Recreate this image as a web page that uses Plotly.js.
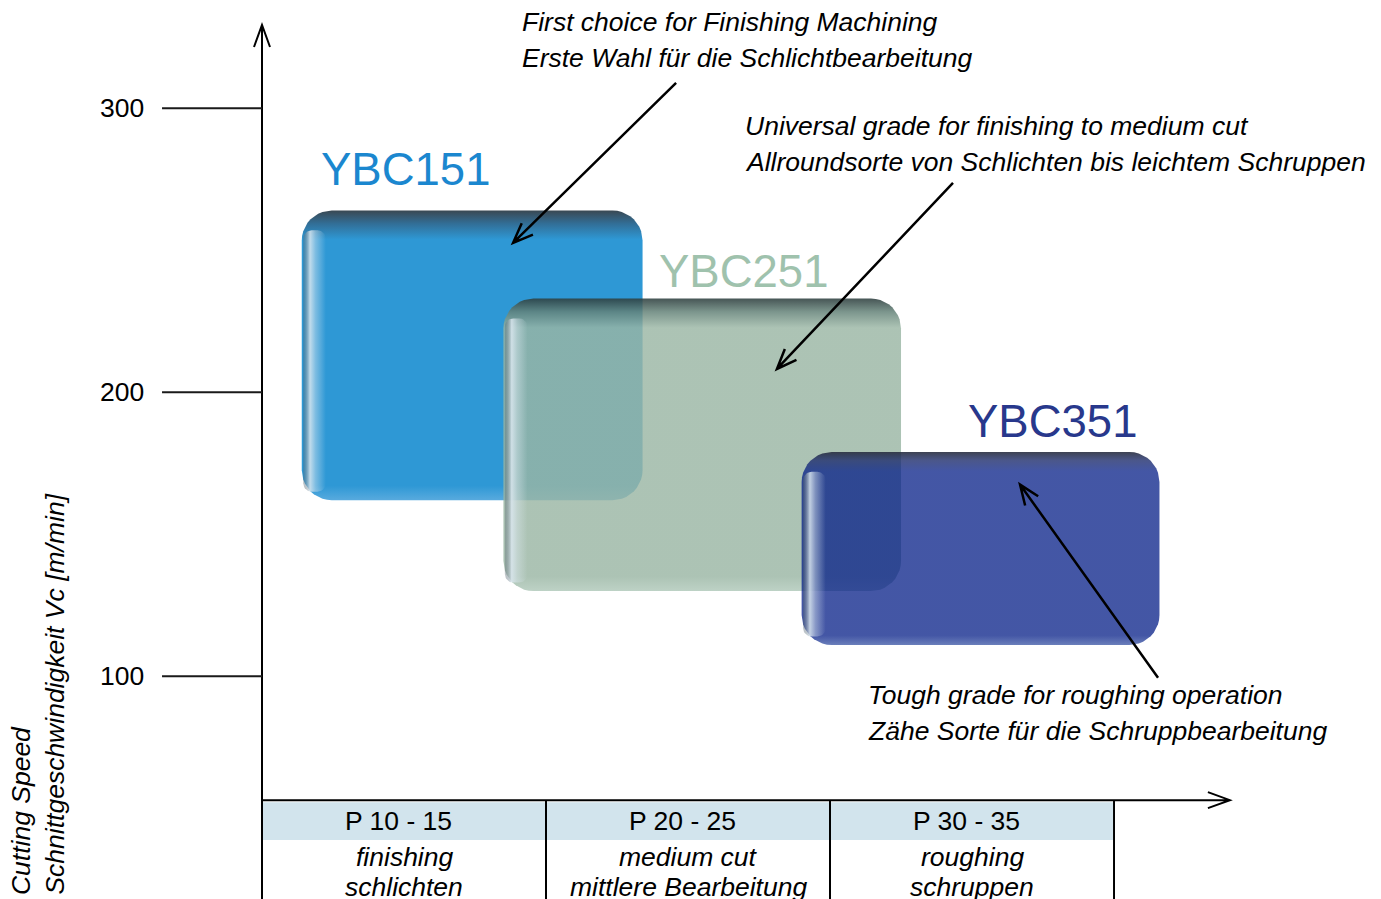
<!DOCTYPE html>
<html>
<head>
<meta charset="utf-8">
<script src="https://cdn.plot.ly/plotly-3.0.1.min.js"></script>
<style>
  html, body { margin: 0; padding: 0; background: #fff; }
  #chart { width: 1381px; height: 899px; }
</style>
</head>
<body>
<div id="chart"></div>
<script>
// grade fields: ISO P range (x) and cutting speed Vc in m/min (y)
var grades = ['YBC151', 'YBC251', 'YBC351'];
var pLow = [11.4, 18.5, 29.0];
var pHigh = [23.4, 32.5, 41.6];
var vcLow = [162, 130, 111];
var vcHigh = [264, 233, 179];

var vcTicks = [100, 200, 300];

// application table under the x axis
var groupEdges = [10, 20, 30, 40];
var groupCodes = ['P 10 - 15', 'P 20 - 25', 'P 30 - 35'];
var groupEn = ['finishing', 'medium cut', 'roughing'];
var groupDe = ['schlichten', 'mittlere Bearbeitung', 'schruppen'];

var noteLines = [
    ['First choice for Finishing Machining', 'Erste Wahl für die Schlichtbearbeitung'],
    ['Universal grade for finishing to medium cut', 'Allroundsorte von Schlichten bis leichtem Schruppen'],
    ['Tough grade for roughing operation', 'Zähe Sorte für die Schruppbearbeitung']
];

// ---- layout geometry ----
var W = 1381, H = 899;
var xRange = [0.775, 49.4];
var yRange = [21.6, 338.1];
var kx = W / (xRange[1] - xRange[0]);   // px per P unit
var ky = H / (yRange[1] - yRange[0]);   // px per m/min

var axisP = 10, axisVc = 56.4, axisTop = 329.3, axisEnd = 44.08;

var labelPos = [[15.04, 278.3], [26.97, 242.4], [37.82, 189.6]];
var labelColors = ['#1b87cf', '#9fc2ad', '#28388c'];

var noteX = [19.08, 26.94, 31.27];
var noteY = [330.4, 293.8, 93.5];
var noteTail = [[24.58, 308.9], [34.33, 273.7], [41.55, 99.5]];
var noteHead = [[18.84, 252.6], [28.13, 208.2], [36.69, 167.5]];

var boxStyles = [
    { body: 'rgb(46,152,213)', top: 'rgb(58,72,82)', mid: 'rgb(50,110,150)', bottom: 'rgb(88,170,222)' },
    { body: 'rgba(154,182,164,0.82)', top: 'rgba(45,62,62,0.88)', mid: 'rgba(100,130,120,0.85)', bottom: 'rgba(175,200,185,0.82)' },
    { body: 'rgba(5,30,135,0.75)', top: 'rgba(40,45,62,0.9)', mid: 'rgba(30,45,110,0.8)', bottom: 'rgba(70,95,170,0.8)' }
];

var FONT = 'Liberation Sans, Arial, sans-serif';
var TXT = 26.5;

function roundRect(x0, x1, y0, y1, rx, ry) {
    var xs = [], ys = [], n = 10;
    var corners = [[x1 - rx, y1 - ry, 0], [x0 + rx, y1 - ry, 90], [x0 + rx, y0 + ry, 180], [x1 - rx, y0 + ry, 270]];
    corners.forEach(function (c) {
        for (var k = 0; k <= n; k++) {
            var a = (c[2] + 90 * k / n) * Math.PI / 180;
            xs.push(c[0] + rx * Math.cos(a));
            ys.push(c[1] + ry * Math.sin(a));
        }
    });
    xs.push(xs[0]);
    ys.push(ys[0]);
    return { x: xs, y: ys };
}

// open V arrow head + shaft, built in pixel space then mapped back
function arrowPath(tail, head, len, half) {
    var dx = (head[0] - tail[0]) * kx, dy = (head[1] - tail[1]) * ky;
    var d = Math.sqrt(dx * dx + dy * dy);
    var ux = dx / d, uy = dy / d;
    var bx = head[0] - ux * len / kx, by = head[1] - uy * len / ky;
    var a = [bx - uy * half / kx, by + ux * half / ky];
    var b = [bx + uy * half / kx, by - ux * half / ky];
    return 'M' + tail[0] + ',' + tail[1] + ' L' + head[0] + ',' + head[1] +
        ' M' + a[0] + ',' + a[1] + ' L' + head[0] + ',' + head[1] + ' L' + b[0] + ',' + b[1];
}

var traces = [];
var rx = 30 / kx, ry = 30 / ky;

grades.forEach(function (g, i) {
    var s = boxStyles[i];
    var r = roundRect(pLow[i], pHigh[i], vcLow[i], vcHigh[i], rx, ry);
    traces.push({
        type: 'scatter', mode: 'lines', x: r.x, y: r.y, fill: 'toself',
        line: { width: 0, color: 'rgba(0,0,0,0)' },
        fillgradient: {
            type: 'vertical',
            colorscale: [[0, s.bottom], [0.05, s.body], [0.9, s.body], [0.955, s.mid], [1, s.top]]
        },
        hoverinfo: 'skip', showlegend: false, name: g
    });
    // glossy left rim
    var strip = roundRect(pLow[i] + 0.05, pLow[i] + 0.85, vcLow[i] + 3, vcHigh[i] - 7, 0.3, 3);
    traces.push({
        type: 'scatter', mode: 'lines', x: strip.x, y: strip.y, fill: 'toself',
        line: { width: 0, color: 'rgba(0,0,0,0)' },
        fillgradient: {
            type: 'horizontal',
            colorscale: [[0, 'rgba(80,95,105,0.35)'], [0.3, 'rgba(220,232,240,0.85)'],
                [0.55, 'rgba(220,232,240,0.45)'], [1, 'rgba(220,232,240,0)']]
        },
        hoverinfo: 'skip', showlegend: false
    });
});

var shapes = [];
var annotations = [];

// header band of the table
shapes.push({
    type: 'rect', xref: 'x', yref: 'y', x0: groupEdges[0], x1: groupEdges[3],
    y0: 42.4, y1: 55.7, fillcolor: '#d2e4ed', line: { width: 0 }, layer: 'below'
});
// column dividers
groupEdges.slice(1).forEach(function (p) {
    shapes.push({ type: 'line', xref: 'x', yref: 'y', x0: p, x1: p, y0: axisVc, y1: yRange[0],
        line: { color: '#000', width: 2 } });
});

// axes with open arrow heads
shapes.push({ type: 'path', xref: 'x', yref: 'y',
    path: arrowPath([axisP, yRange[0]], [axisP, axisTop], 22, 8), line: { color: '#000', width: 2 } });
shapes.push({ type: 'path', xref: 'x', yref: 'y',
    path: arrowPath([axisP, axisVc], [axisEnd, axisVc], 22, 8), line: { color: '#000', width: 2 } });

// long tick lines and labels
vcTicks.forEach(function (v) {
    shapes.push({ type: 'line', xref: 'x', yref: 'y', x0: 6.48, x1: axisP, y0: v, y1: v,
        line: { color: '#1a1a1a', width: 2 } });
    annotations.push({ x: 5.92, y: v, xref: 'x', yref: 'y', text: String(v), showarrow: false,
        xanchor: 'right', yanchor: 'middle', font: { family: FONT, size: TXT, color: '#000' } });
});

// table texts
groupCodes.forEach(function (c, i) {
    var xc = (groupEdges[i] + groupEdges[i + 1]) / 2;
    annotations.push({ x: xc - 0.2, y: 49.1, xref: 'x', yref: 'y', text: c, showarrow: false,
        font: { family: FONT, size: TXT, color: '#000' } });
    annotations.push({ x: xc, y: 36.4, xref: 'x', yref: 'y', text: '<i>' + groupEn[i] + '</i>', showarrow: false,
        font: { family: FONT, size: TXT, color: '#000' } });
    annotations.push({ x: xc, y: 25.8, xref: 'x', yref: 'y', text: '<i>' + groupDe[i] + '</i>', showarrow: false,
        font: { family: FONT, size: TXT, color: '#000' } });
});

// grade labels
grades.forEach(function (g, i) {
    annotations.push({ x: labelPos[i][0], y: labelPos[i][1], xref: 'x', yref: 'y', text: g, showarrow: false,
        font: { family: FONT, size: 45.5, color: labelColors[i] } });
});

// notes with arrows
noteLines.forEach(function (lines, i) {
    lines.forEach(function (t, j) {
        annotations.push({ x: noteX[i], y: noteY[i] - j * 12.7, xref: 'x', yref: 'y', text: '<i>' + t + '</i>',
            showarrow: false, xanchor: 'left', yanchor: 'middle', font: { family: FONT, size: TXT, color: '#000' } });
    });
    shapes.push({ type: 'path', xref: 'x', yref: 'y',
        path: arrowPath(noteTail[i], noteHead[i], 20, 8), line: { color: '#000', width: 2.5 } });
});

// y axis title, rotated
annotations.push({ x: 1.5, y: 22.3, xref: 'x', yref: 'y', text: '<i>Cutting Speed</i>', textangle: -90,
    showarrow: false, xanchor: 'center', yanchor: 'bottom', font: { family: FONT, size: TXT, color: '#000' } });
annotations.push({ x: 2.68, y: 22.3, xref: 'x', yref: 'y', text: '<i>Schnittgeschwindigkeit Vc [m/min]</i>', textangle: -90,
    showarrow: false, xanchor: 'center', yanchor: 'bottom', font: { family: FONT, size: TXT, color: '#000' } });

var layout = {
    width: W, height: H,
    margin: { l: 0, r: 0, t: 0, b: 0 },
    paper_bgcolor: 'white', plot_bgcolor: 'white',
    xaxis: { range: xRange, visible: false, fixedrange: true },
    yaxis: { range: yRange, visible: false, fixedrange: true },
    shapes: shapes,
    annotations: annotations,
    showlegend: false
};

Plotly.newPlot('chart', traces, layout, { displayModeBar: false, staticPlot: true });
</script>
</body>
</html>
